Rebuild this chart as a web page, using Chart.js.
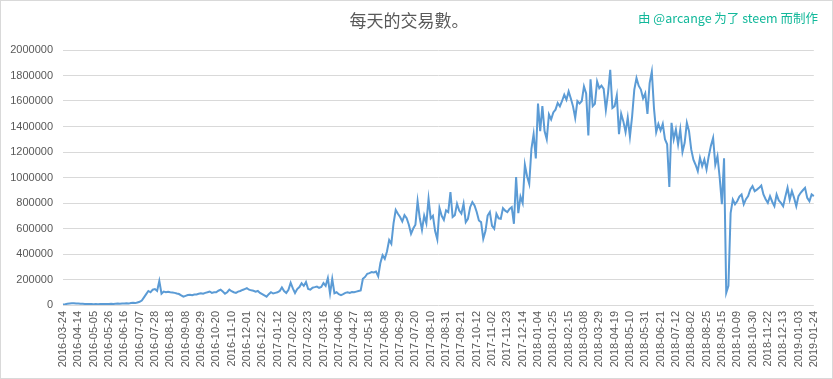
<!DOCTYPE html>
<html>
<head>
<meta charset="utf-8">
<script src="https://cdn.jsdelivr.net/npm/chart.js@4/dist/chart.umd.min.js"></script>
<style>
  html, body { margin: 0; padding: 0; background: #ffffff; }
  #wrap { position: relative; width: 833px; height: 379px; }
  #frame { position: absolute; left: 0; top: 0; width: 833px; height: 379px; box-sizing: border-box; border: 1px solid #d9d9d9; pointer-events: none; }
  #credit { position: absolute; right: 15px; top: 8px; font-family: "Noto Sans CJK SC", "Noto Sans", sans-serif; font-size: 12.5px; color: #12b89a; white-space: nowrap; }
</style>
</head>
<body>
<div id="wrap">
  <canvas id="c" width="833" height="379"></canvas>
  <div id="credit">由 @arcange 为了 steem 而制作</div>
  <div id="frame"></div>
</div>
<script>
// Tick labels shown on the x axis (every 21 days)
const tickLabels = [
  "2016-03-24","2016-04-14","2016-05-05","2016-05-26","2016-06-16","2016-07-07","2016-07-28","2016-08-18",
  "2016-09-08","2016-09-29","2016-10-20","2016-11-10","2016-12-01","2016-12-22","2017-01-12","2017-02-02",
  "2017-02-23","2017-03-16","2017-04-06","2017-04-27","2017-05-18","2017-06-08","2017-06-29","2017-07-20",
  "2017-08-10","2017-08-31","2017-09-21","2017-10-12","2017-11-02","2017-11-23","2017-12-14","2018-01-04",
  "2018-01-25","2018-02-15","2018-03-08","2018-03-29","2018-04-19","2018-05-10","2018-05-31","2018-06-21",
  "2018-07-12","2018-08-02","2018-08-25","2018-09-15","2018-10-09","2018-10-30","2018-11-22","2018-12-13",
  "2019-01-03","2019-01-24"
];
const slotsPerTick = 7; // one value every 3 days

const tx2016 = [
  4000, 6000, 9000, 12000, 14000, 13000, 12000,
  11000, 10000, 9000, 8000, 8000, 7000, 7000,
  6000, 7000, 6000, 7000, 8000, 7000, 8000,
  8000, 9000, 8000, 10000, 12000, 9000, 11000,
  12000, 14000, 11000, 16000, 18000, 15000, 20000,
  25000, 35000, 60000, 85000, 110000, 100000, 120000,
  125000, 110000, 188000, 88000, 105000, 100000, 104000,
  100000, 98000, 95000, 90000, 86000, 75000, 65000,
  72000, 78000, 80000, 76000, 82000, 83000, 88000,
  92000, 88000, 95000, 100000, 106000, 95000, 100000,
  100000, 112000, 120000, 105000, 89000, 100000, 120000,
  108000, 100000, 95000, 105000, 110000, 118000, 125000,
  132000, 120000, 115000, 112000, 105000, 110000, 95000,
  85000, 75000, 65000, 85000, 100000, 90000, 95000
];
const tx2017 = [
  100000, 110000, 138000, 110000, 95000, 120000, 175000,
  130000, 94000, 125000, 141000, 170000, 150000, 180000,
  125000, 120000, 136000, 140000, 145000, 135000, 141000,
  172000, 150000, 211000, 90000, 205000, 92000, 100000,
  85000, 78000, 85000, 95000, 100000, 95000, 102000,
  100000, 105000, 110000, 115000, 205000, 220000, 245000,
  250000, 258000, 255000, 262000, 225000, 330000, 390000,
  362000, 420000, 510000, 480000, 640000, 745000, 715000,
  690000, 655000, 705000, 680000, 630000, 558000, 600000,
  630000, 815000, 680000, 590000, 700000, 640000, 833000,
  680000, 700000, 580000, 515000, 760000, 700000, 668000,
  742000, 728000, 885000, 690000, 705000, 794000, 740000,
  716000, 794000, 650000, 676000, 767000, 807000, 780000,
  729000, 663000, 650000, 519000, 580000, 702000, 729000,
  620000, 598000, 715000, 680000, 676000, 760000, 740000,
  729000, 754000, 768000, 637000, 1004000, 720000, 850000,
  800000, 1100000, 1010000, 950000, 1225000, 1340000, 1150000
];
const tx2018 = [
  1580000, 1364000, 1560000, 1364000, 1300000, 1494000, 1455000,
  1510000, 1532000, 1584000, 1558000, 1600000, 1649000, 1610000,
  1675000, 1620000, 1558000, 1468000, 1600000, 1580000, 1600000,
  1714000, 1660000, 1330000, 1770000, 1560000, 1578000, 1753000,
  1700000, 1721000, 1695000, 1530000, 1662000, 1844000, 1545000,
  1560000, 1643000, 1340000, 1500000, 1440000, 1356000, 1470000,
  1320000, 1480000, 1690000, 1780000, 1720000, 1690000, 1620000,
  1660000, 1499000, 1740000, 1830000, 1540000, 1356000, 1420000,
  1369000, 1421000, 1300000, 1260000, 926000, 1429000, 1300000,
  1376000, 1259000, 1376000, 1200000, 1272000, 1429000, 1363000,
  1220000, 1140000, 1100000, 1050000, 1154000, 1089000, 1141000,
  1063000, 1167000, 1250000, 1311000, 1100000, 1167000, 1000000,
  790000, 1150000, 95000, 150000, 720000, 827000, 790000,
  814000, 850000, 867000, 790000, 830000, 854000, 906000,
  932000, 893000, 905000, 919000, 937000, 867000, 830000,
  801000, 854000, 810000, 775000, 867000, 820000, 801000,
  775000, 850000, 919000, 827000, 893000, 840000, 775000
];
const tx2019 = [
  854000, 880000, 900000, 919000, 840000, 814000, 867000,
  854000
];

const yTicks = [0, 200000, 400000, 600000, 800000, 1000000, 1200000, 1400000, 1600000, 1800000, 2000000];

const values = [].concat(tx2016, tx2017, tx2018, tx2019);

// Category labels: tick dates, with the dates in between every 3 days
function addDays(s, d) {
  const t = new Date(s + "T00:00:00Z");
  t.setUTCDate(t.getUTCDate() + d);
  return t.toISOString().slice(0, 10);
}
const categories = [];
for (let i = 0; i < values.length; i++) {
  const k = Math.floor(i / slotsPerTick), j = i % slotsPerTick;
  categories.push(j === 0 ? tickLabels[k] : addDays(tickLabels[k], 3 * j));
}

const axisFont = { family: "'Liberation Sans', Arial, sans-serif", size: 11 };

new Chart(document.getElementById('c'), {
  type: 'line',
  data: {
    labels: categories,
    datasets: [{
      data: values,
      borderColor: '#5b9bd5',
      borderWidth: 2,
      pointRadius: 0,
      tension: 0,
      fill: false
    }]
  },
  options: {
    responsive: false,
    animation: false,
    devicePixelRatio: 1,
    layout: { padding: { left: 0, right: 15, top: 0, bottom: 0 } },
    plugins: {
      legend: { display: false },
      tooltip: { enabled: false },
      title: {
        display: true,
        text: '每天的交易數。',
        color: '#595959',
        font: { family: "'Noto Sans CJK SC', 'Noto Sans CJK TC', sans-serif", size: 17, weight: 'normal' },
        padding: { top: 10, bottom: 19.6 }
      }
    },
    scales: {
      x: {
        type: 'category',
        offset: false,
        grid: { display: false, drawTicks: false },
        border: { display: false },
        ticks: {
          autoSkip: false,
          maxRotation: 90,
          minRotation: 90,
          padding: 6,
          color: '#595959',
          font: axisFont,
          callback: function (v, idx) {
            return idx % slotsPerTick === 0 ? tickLabels[idx / slotsPerTick] : null;
          }
        },
        afterFit: function (s) { s.height = 74; }
      },
      y: {
        min: 0,
        max: 2000000,
        afterBuildTicks: function (s) { s.ticks = yTicks.map(v => ({ value: v })); },
        grid: { color: '#d9d9d9', lineWidth: 1, drawTicks: false },
        border: { display: false },
        ticks: {
          padding: 10,
          color: '#595959',
          font: axisFont,
          callback: function (v) { return String(v); }
        },
        afterFit: function (s) { s.width = 63; }
      }
    }
  }
});
</script>
</body>
</html>
